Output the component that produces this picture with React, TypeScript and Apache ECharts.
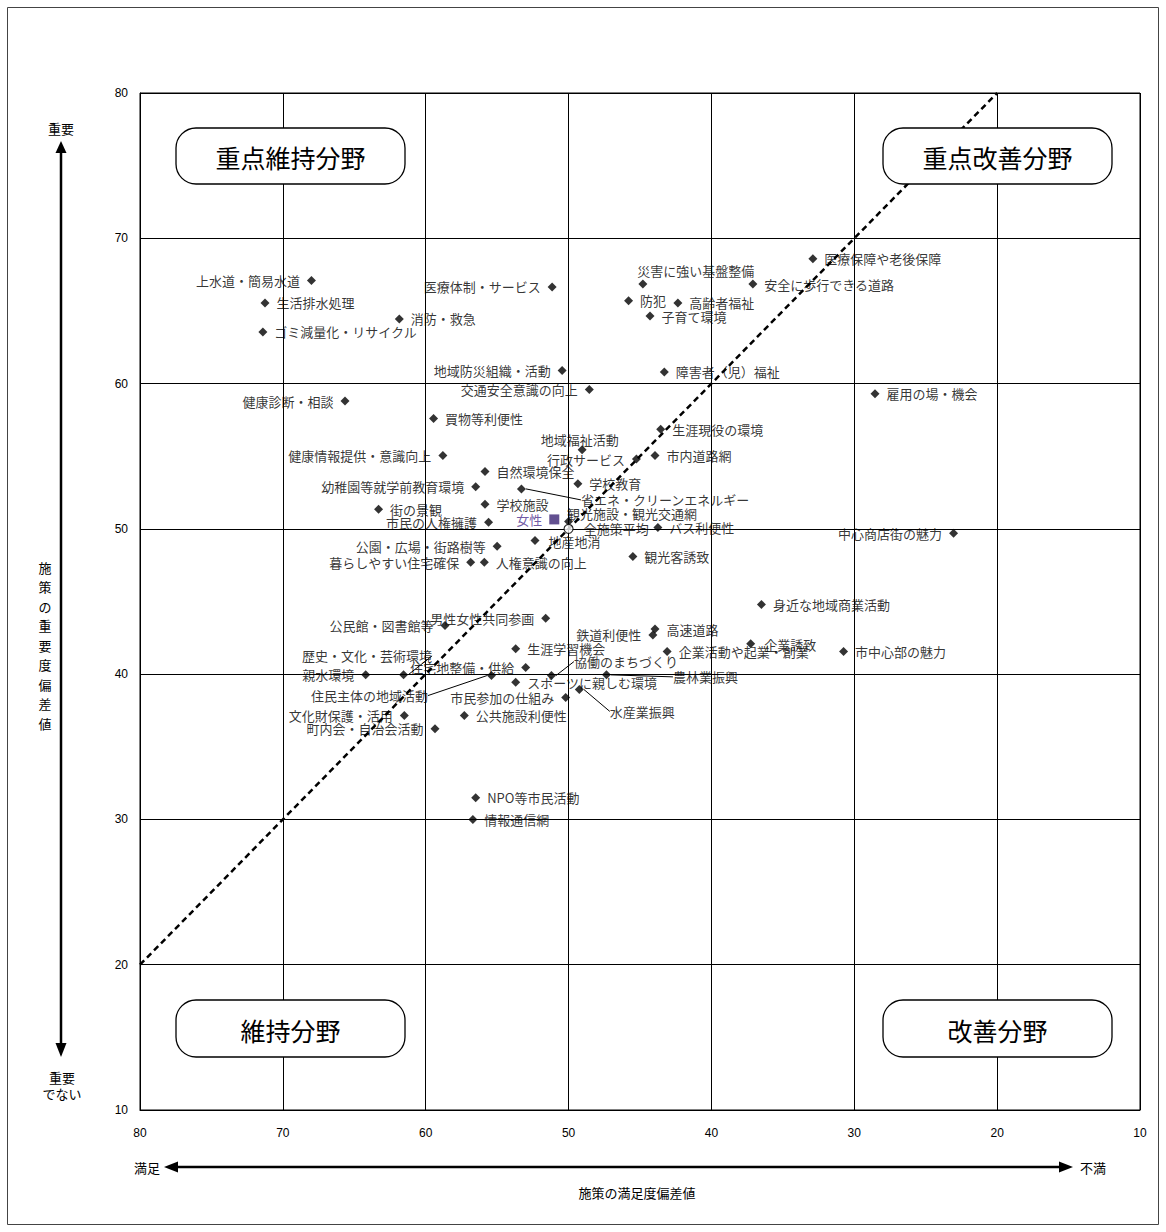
import React, { useEffect, useRef } from 'react';
import * as echarts from 'echarts';

// ---- data ----
const policyNames = [
  '上水道・簡易水道', '生活排水処理', 'ゴミ減量化・リサイクル', '消防・救急', '医療体制・サービス',
  '災害に強い基盤整備', '安全に歩行できる道路', '医療保障や老後保障', '防犯', '高齢者福祉',
  '子育て環境', '地域防災組織・活動', '障害者（児）福祉', '交通安全意識の向上', '健康診断・相談',
  '雇用の場・機会', '買物等利便性', '生涯現役の環境', '地域福祉活動', '健康情報提供・意識向上',
  '行政サービス', '市内道路網', '自然環境保全', '学校教育', '幼稚園等就学前教育環境',
  '学校施設', '街の景観', '観光施設・観光交通網', '市民の人権擁護', 'バス利便性',
  '地産地消', '公園・広場・街路樹等', '観光客誘致', '暮らしやすい住宅確保', '人権意識の向上',
  '身近な地域商業活動', '男性女性共同参画', '公民館・図書館等', '高速道路', '鉄道利便性',
  '企業誘致', '生涯学習機会', '企業活動や起業・創業', '市中心部の魅力', '中心商店街の魅力',
  '親水環境', '住宅地整備・供給', 'スポーツに親しむ環境', '市民参加の仕組み', '公共施設利便性',
  '文化財保護・活用', '町内会・自治会活動', 'NPO等市民活動', '情報通信網',
];
const satisfaction = [
  68.0, 71.25, 71.4, 61.85, 51.15,
  44.8, 37.1, 32.9, 45.8, 42.35,
  44.3, 50.45, 43.3, 48.55, 65.65,
  28.55, 59.45, 43.55, 49.05, 58.8,
  45.25, 43.95, 55.85, 49.35, 56.5,
  55.85, 63.3, 50.0, 55.6, 43.75,
  52.35, 55.0, 45.5, 56.85, 55.9,
  36.5, 51.6, 58.65, 43.95, 44.1,
  37.25, 53.7, 43.1, 30.75, 23.05,
  64.2, 53.0, 53.7, 50.2, 57.3,
  61.5, 59.35, 56.5, 56.7,
];
const importance = [
  67.1, 65.55, 63.55, 64.45, 66.65,
  66.85, 66.85, 68.6, 65.7, 65.55,
  64.65, 60.9, 60.8, 59.6, 58.8,
  59.3, 57.6, 56.85, 55.45, 55.05,
  54.8, 55.05, 53.95, 53.1, 52.9,
  51.7, 51.35, 50.5, 50.45, 50.1,
  49.2, 48.8, 48.1, 47.7, 47.7,
  44.8, 43.85, 43.35, 43.1, 42.7,
  42.1, 41.75, 41.55, 41.55, 49.7,
  39.95, 40.45, 39.45, 38.4, 37.15,
  37.15, 36.25, 31.5, 30.0,
];
// label placement (annotation config, not data)
const labelSides = [
  'l', 'r', 'r', 'r', 'l',
  'r', 'r', 'r', 'r', 'r',
  'r', 'l', 'r', 'l', 'l',
  'r', 'r', 'r', 'r', 'l',
  'l', 'r', 'r', 'r', 'l',
  'r', 'r', 'r', 'l', 'r',
  'r', 'l', 'r', 'l', 'r',
  'r', 'l', 'l', 'r', 'l',
  'r', 'r', 'r', 'r', 'l',
  'l', 'l', 'r', 'l', 'r',
  'l', 'l', 'r', 'r',
];
const labelOffsets: Record<string, number[]> = {
  '災害に強い基盤整備': [-17, -14],
  '地域福祉活動': [-53, -10],
  '観光施設・観光交通網': [-13, -8],
  '地産地消': [2, 1],
  '企業誘致': [2, 1],
};

// points whose labels sit away from them with a leader line
const leaderNames = ['省エネ・クリーンエネルギー', '歴史・文化・芸術環境', '住民主体の地域活動', '協働のまちづくり', '農林業振興', '水産業振興'];
const leaderSatisfaction = [53.3, 61.55, 55.4, 51.2, 47.35, 49.25];
const leaderImportance = [52.75, 39.95, 39.9, 39.9, 39.95, 38.95];
const leaderShift = [[48, 11], [-113, -19], [-192, 20], [11, -14], [55, 2], [19, 22]];

const femaleName = '女性';
const femaleValue = [51.0, 50.65];
const averageName = '全施策平均';
const averageValue = [50, 50];

const diagonalLine = [[80, 20], [20, 80]];

const axisMin = 10;
const axisMax = 80;
const axisStep = 10;

const FONT = "'Noto Sans CJK JP', 'Noto Sans', sans-serif";

export default function App() {
  const ref = useRef<HTMLDivElement>(null);
  useEffect(() => {
    if (!ref.current) return;
    const chart = echarts.init(ref.current, null, { renderer: 'svg' });
    const labelBase = { show: true, formatter: '{b}', fontSize: 13, color: '#000', fontFamily: FONT, distance: 7 };

    const quadBox = (x: number, y: number, w: number, h: number, text: string) => ({
      type: 'group',
      z: 100,
      children: [
        { type: 'rect', shape: { x, y, width: w, height: h, r: 20 }, style: { fill: '#fff', stroke: '#000', lineWidth: 1.3 }, z: 100 },
        { type: 'text', x: x + w / 2, y: y + h / 2 + 1, style: { text, fontSize: 25, fontFamily: FONT, fill: '#000', align: 'center', verticalAlign: 'middle' }, z: 101 },
      ],
    });

    const option: any = {
      animation: false,
      backgroundColor: '#fff',
      grid: { left: 140, top: 93, right: 26, bottom: 122, show: true, borderColor: '#000', borderWidth: 1 },
      xAxis: {
        type: 'value', inverse: true, min: axisMin, max: axisMax, interval: axisStep,
        axisLine: { show: true, lineStyle: { color: '#000' } },
        axisTick: { show: false },
        axisLabel: { margin: 17, fontSize: 12, color: '#000', fontFamily: "'Liberation Sans', sans-serif" },
        splitLine: { show: true, lineStyle: { color: '#000', width: 1 } },
      },
      yAxis: {
        type: 'value', min: axisMin, max: axisMax, interval: axisStep,
        axisLine: { show: true, lineStyle: { color: '#000' } },
        axisTick: { show: false },
        axisLabel: { margin: 12, fontSize: 12, color: '#000', fontFamily: "'Liberation Sans', sans-serif" },
        splitLine: { show: true, lineStyle: { color: '#000', width: 1 } },
      },
      series: [
        {
          type: 'line', data: diagonalLine, symbol: 'none', silent: true, z: 1,
          lineStyle: { color: '#000', width: 2.5, type: [6, 4] },
        },
        {
          type: 'scatter', symbol: 'diamond', symbolSize: 9, z: 3,
          itemStyle: { color: '#000' },
          label: { ...labelBase, position: 'right' },
          data: policyNames.map((n, i) => ({
            name: n,
            value: [satisfaction[i], importance[i]],
            label: { position: labelSides[i] === 'l' ? 'left' : 'right', offset: labelOffsets[n] || [0, 0] },
          })),
        },
        {
          type: 'scatter', symbol: 'diamond', symbolSize: 9, z: 3,
          itemStyle: { color: '#000' },
          label: { ...labelBase, position: 'right' },
          labelLine: { show: true, lineStyle: { color: '#000', width: 1 } },
          labelLayout: (p: any) => ({ dx: leaderShift[p.dataIndex][0], dy: leaderShift[p.dataIndex][1] }),
          data: leaderNames.map((n, i) => ({ name: n, value: [leaderSatisfaction[i], leaderImportance[i]] })),
        },
        {
          type: 'scatter', symbol: 'rect', symbolSize: 10, z: 4,
          itemStyle: { color: '#3b2474' },
          label: { ...labelBase, position: 'left', color: '#4a2d8c' },
          data: [{ name: femaleName, value: femaleValue }],
        },
        {
          type: 'scatter', symbol: 'circle', symbolSize: 9, z: 4,
          itemStyle: { color: '#fff', borderColor: '#000', borderWidth: 1.2 },
          label: { ...labelBase, position: 'right', offset: [3, 0] },
          data: [{ name: averageName, value: averageValue }],
        },
      ],
      graphic: [
        { type: 'rect', shape: { x: 7.5, y: 7.5, width: 1151, height: 1217 }, style: { fill: 'none', stroke: '#444', lineWidth: 1 }, z: 50 },
        quadBox(176, 128, 229, 56, '重点維持分野'),
        quadBox(883, 128, 229, 56, '重点改善分野'),
        quadBox(176, 1000, 229, 57, '維持分野'),
        quadBox(883, 1000, 229, 57, '改善分野'),
        // vertical arrow
        { type: 'line', shape: { x1: 61, y1: 150, x2: 61, y2: 1046 }, style: { stroke: '#000', lineWidth: 2.5 }, z: 50 },
        { type: 'polygon', shape: { points: [[61, 141], [55.5, 153], [66.5, 153]] }, style: { fill: '#000' }, z: 50 },
        { type: 'polygon', shape: { points: [[61, 1057], [55.5, 1043], [66.5, 1043]] }, style: { fill: '#000' }, z: 50 },
        { type: 'text', x: 61, y: 128, style: { text: '重要', fontSize: 13, fontFamily: FONT, fill: '#000', align: 'center', verticalAlign: 'middle' }, z: 50 },
        { type: 'text', x: 62, y: 1085, style: { text: '重要\nでない', fontSize: 13, lineHeight: 16, fontFamily: FONT, fill: '#000', align: 'center', verticalAlign: 'middle' }, z: 50 },
        { type: 'text', x: 45, y: 645, style: { text: '施\n策\nの\n重\n要\n度\n偏\n差\n値', fontSize: 13, lineHeight: 19.5, fontFamily: FONT, fill: '#000', align: 'center', verticalAlign: 'middle' }, z: 50 },
        // horizontal arrow
        { type: 'line', shape: { x1: 176, y1: 1167, x2: 1061, y2: 1167 }, style: { stroke: '#000', lineWidth: 2.5 }, z: 50 },
        { type: 'polygon', shape: { points: [[164, 1167], [178, 1161.5], [178, 1172.5]] }, style: { fill: '#000' }, z: 50 },
        { type: 'polygon', shape: { points: [[1073, 1167], [1059, 1161.5], [1059, 1172.5]] }, style: { fill: '#000' }, z: 50 },
        { type: 'text', x: 147, y: 1167, style: { text: '満足', fontSize: 13, fontFamily: FONT, fill: '#000', align: 'center', verticalAlign: 'middle' }, z: 50 },
        { type: 'text', x: 1093, y: 1167, style: { text: '不満', fontSize: 13, fontFamily: FONT, fill: '#000', align: 'center', verticalAlign: 'middle' }, z: 50 },
        { type: 'text', x: 637, y: 1192, style: { text: '施策の満足度偏差値', fontSize: 13, fontFamily: FONT, fill: '#000', align: 'center', verticalAlign: 'middle' }, z: 50 },
      ],
    };
    chart.setOption(option);
    return () => chart.dispose();
  }, []);
  return <div ref={ref} style={{ position: 'absolute', left: 0, top: 0, width: 1166, height: 1232 }} />;
}
